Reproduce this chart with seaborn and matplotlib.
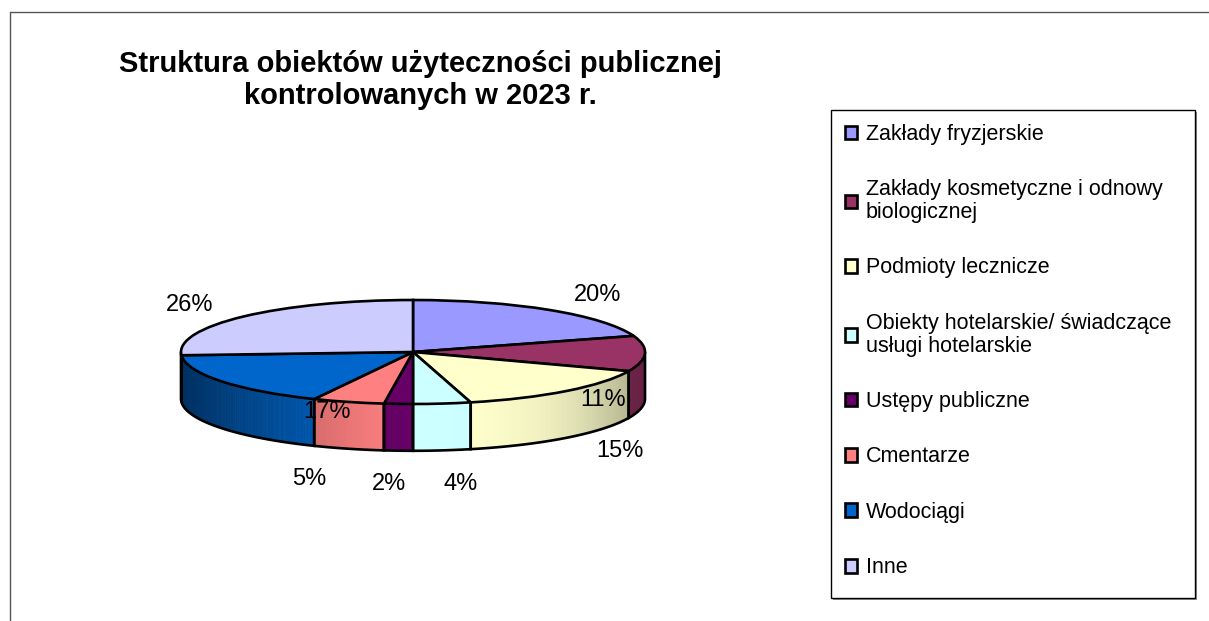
import textwrap
import numpy as np
import matplotlib
matplotlib.use("Agg")
import matplotlib.pyplot as plt
import matplotlib.colors as mcolors
from matplotlib.patches import Rectangle
from matplotlib.lines import Line2D
import seaborn as sns

# ---- data ----
categories = [
    "Zakłady fryzjerskie",
    "Zakłady kosmetyczne i odnowy biologicznej",
    "Podmioty lecznicze",
    "Obiekty hotelarskie/ świadczące usługi hotelarskie",
    "Ustępy publiczne",
    "Cmentarze",
    "Wodociągi",
    "Inne",
]
shares = [20, 11, 15, 4, 2, 5, 17, 26]
title = "Struktura obiektów użyteczności publicznej\nkontrolowanych w 2023 r."

# ---- style ----
colors = ["#9999FF", "#993366", "#FFFFCC", "#CCFFFF",
          "#660066", "#FF8080", "#0066CC", "#CCCCFF"]
label_r = [1.35, 0.82, 1.35, 1.65, 1.65, 1.6, 0.45, 1.32]

sns.set_theme(style="white")
plt.rcParams["font.family"] = ["Liberation Sans", "DejaVu Sans"]
plt.rcParams["text.color"] = "black"

W, H = 1209, 621
fig = plt.figure(figsize=(W / 100, H / 100), dpi=100)
fig.patch.set_facecolor("white")
ax = fig.add_axes([0, 0, 1, 1])

# pixel geometry of the pie
cx, cy, rx, ry = 413, 352, 232, 52
depth = 0.9  # band thickness in y-units

wedges, _ = ax.pie(shares, colors=colors, startangle=90, counterclock=False,
                   radius=1, center=(0, 0),
                   wedgeprops=dict(edgecolor="black", linewidth=1.9, zorder=3))
ax.set_aspect("auto")
ax.set_xlim(-cx / rx, (W - cx) / rx)
ax.set_ylim((cy - H) / ry, cy / ry)
ax.axis("off")


def shade(x):
    if x < 0:
        return 1 - 0.53 * abs(x) ** 1.4
    return 1 - 0.35 * x ** 3


# side band of the 3D pie
for w, col in zip(wedges, colors):
    a = max(w.theta1, -180.0)
    b = min(w.theta2, 0.0)
    if b <= a:
        continue
    base = np.array(mcolors.to_rgb(col))
    n = max(int((b - a) * 2), 2)
    ts = np.radians(np.linspace(a, b, n + 1))
    for ta, tb in zip(ts[:-1], ts[1:]):
        xm = np.cos(0.5 * (ta + tb))
        c = np.clip(base * shade(xm), 0, 1)
        xs = [np.cos(ta), np.cos(tb), np.cos(tb), np.cos(ta)]
        ys = [np.sin(ta), np.sin(tb), np.sin(tb) - depth, np.sin(ta) - depth]
        ax.fill(xs, ys, color=c, lw=0.6, ec=c, zorder=1)
    ox = np.concatenate([[np.cos(ts[0])], np.cos(ts), [np.cos(ts[-1])]])
    oy = np.concatenate([[np.sin(ts[0])], np.sin(ts) - depth, [np.sin(ts[-1])]])
    ax.plot(ox, oy, color="black", lw=1.9, zorder=2, solid_joinstyle="miter")

# percentage labels
for w, v, r in zip(wedges, shares, label_r):
    tm = np.radians(0.5 * (w.theta1 + w.theta2))
    lx = r * np.cos(tm)
    ly = r * np.sin(tm)
    if np.sin(tm) < 0:
        ly -= depth
    ax.text(lx, ly, f"{v}%", ha="center", va="center", fontsize=17,
            color="black", zorder=5)

# title
fig.text(420 / W, 1 - 80 / H, title, ha="center", va="center",
         fontsize=21, fontweight="bold", linespacing=1.2, color="black")

# outer chart frame
fig.add_artist(Line2D([10 / W, 1], [1 - 12 / H, 1 - 12 / H],
                      transform=fig.transFigure, color="#555555", lw=1))
fig.add_artist(Line2D([10 / W, 10 / W], [0, 1 - 12 / H],
                      transform=fig.transFigure, color="#555555", lw=1))

# legend box with slight shadow
fig.add_artist(Rectangle((833 / W, 1 - 600 / H), 364 / W, 488 / H,
                         transform=fig.transFigure, fill=True,
                         fc="#909090", ec="none", lw=0, zorder=0.5))
fig.add_artist(Rectangle((831 / W, 1 - 598 / H), 364 / W, 488 / H,
                         transform=fig.transFigure, fill=True, fc="white",
                         ec="black", lw=1, zorder=0.6))

wrapped = [textwrap.fill(c, 31) for c in categories]
leg = fig.legend(wedges, wrapped, loc="upper left",
                 bbox_to_anchor=(845 / W, 1 - 124 / H),
                 frameon=False, fontsize=15.5, borderpad=0, borderaxespad=0,
                 handlelength=0.56, handleheight=0.6, handletextpad=0.4,
                 labelspacing=1.6)
for t in leg.get_texts():
    t.set_linespacing(1.1)
    t.set_color("black")

fig.savefig("out.png", dpi=100)
